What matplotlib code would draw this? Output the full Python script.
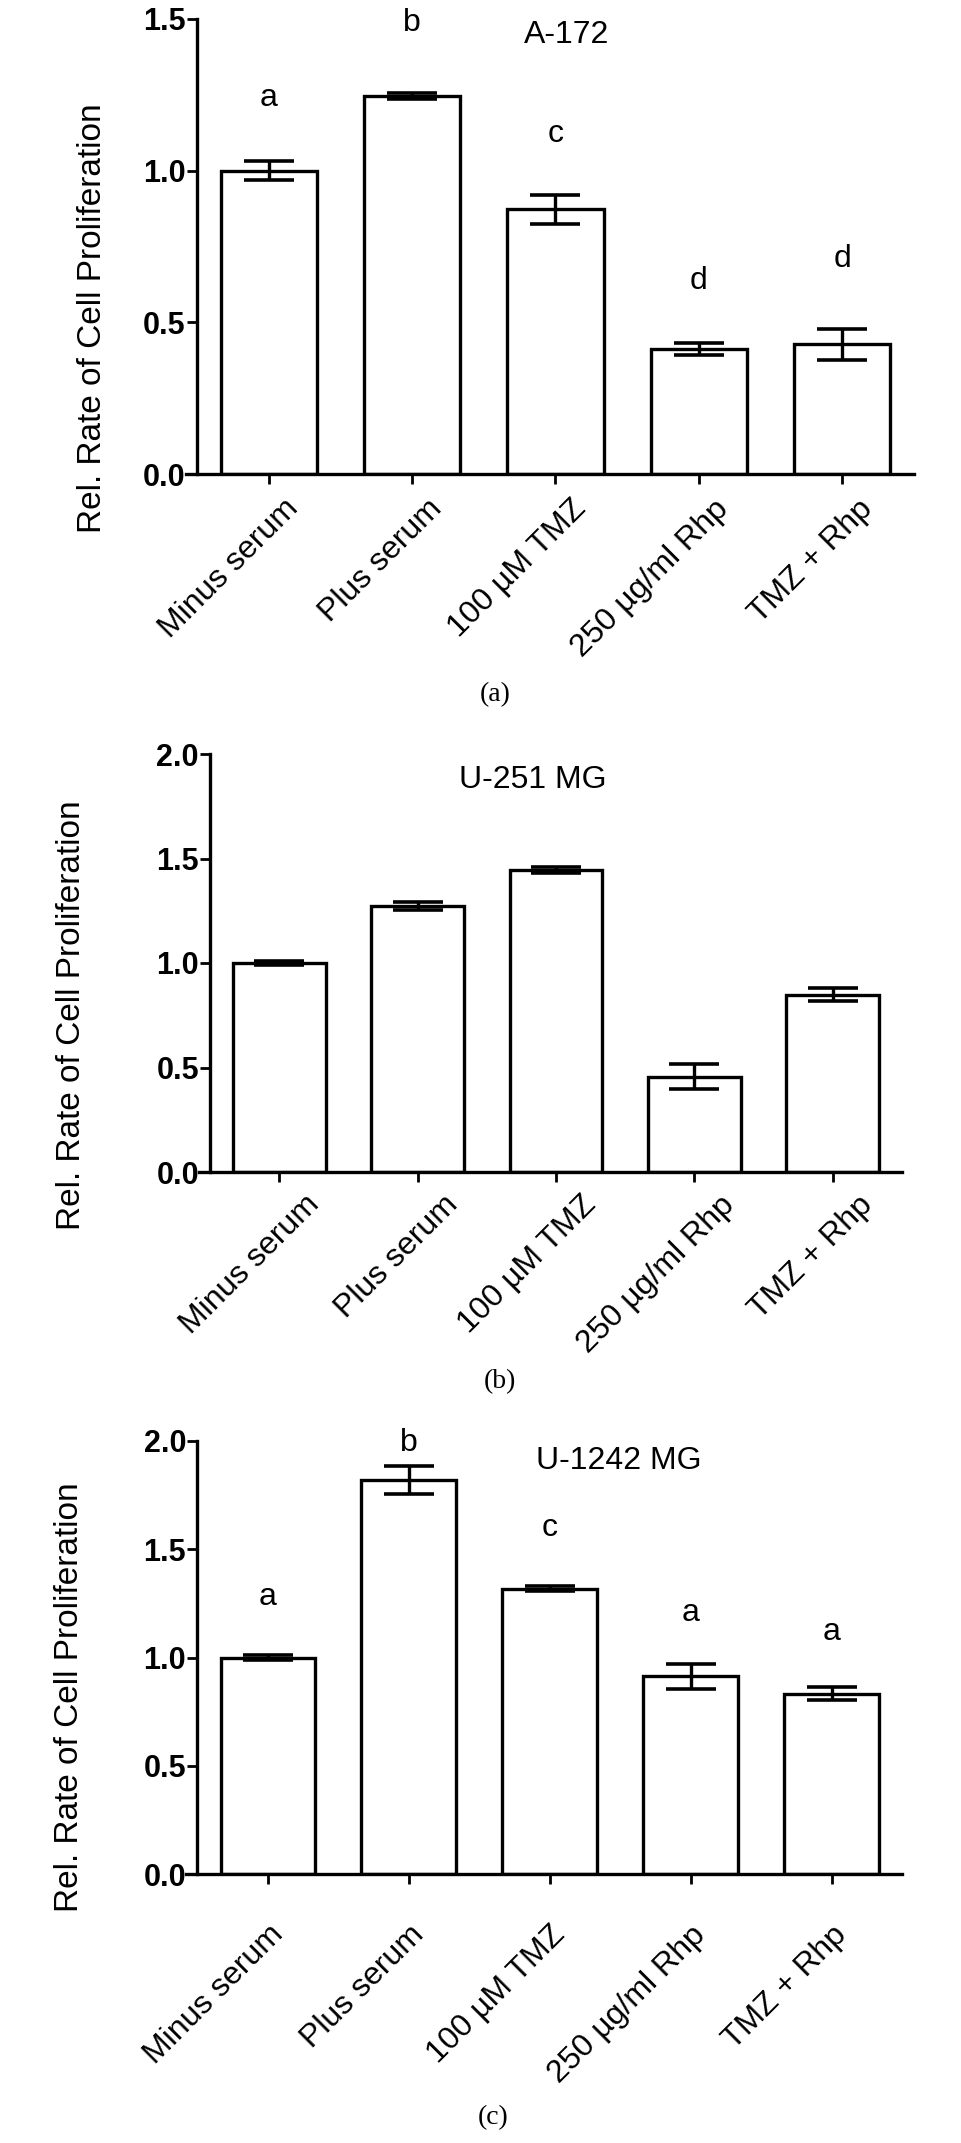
import matplotlib
matplotlib.use("Agg")
import matplotlib.pyplot as plt
from matplotlib.transforms import ScaledTranslation
import numpy as np

plt.rcParams['font.family'] = ['Liberation Sans', 'DejaVu Sans']

# --- data ---
groups = ['Minus serum', 'Plus serum', '100 µM TMZ', '250 µg/ml Rhp', 'TMZ + Rhp']

a172_mean = [1.00, 1.245, 0.873, 0.412, 0.427]
a172_err = [0.032, 0.010, 0.048, 0.020, 0.052]
a172_letters = ['a', 'b', 'c', 'd', 'd']
a172_letter_y = [1.238, 1.487, 1.12, 0.636, 0.709]

u251_mean = [1.00, 1.273, 1.445, 0.455, 0.848]
u251_err = [0.008, 0.020, 0.015, 0.060, 0.032]

u1242_mean = [1.00, 1.82, 1.318, 0.914, 0.832]
u1242_err = [0.012, 0.065, 0.012, 0.058, 0.030]
u1242_letters = ['a', 'b', 'c', 'a', 'a']
u1242_letter_y = [1.279, 1.99, 1.60, 1.205, 1.117]

W, H = 961, 2143
fig = plt.figure(figsize=(W / 100, H / 100), dpi=100)


def px_axes(left, right, top, bottom):
    # pixel box -> figure fraction
    return [left / W, 1 - bottom / H, (right - left) / W, (bottom - top) / H]


panels = [
    dict(box=(185.5, 914, 19, 474), ymax=1.5, mean=a172_mean, err=a172_err,
         letters=a172_letters, letter_y=a172_letter_y,
         title='A-172', title_xy=(2.08, 1.447), lab_off=(15, 10),
         ylab=(93, 318), cap='(a)', cap_xy=(495, 695)),
    dict(box=(199, 902, 754, 1172), ymax=2.0, mean=u251_mean, err=u251_err,
         letters=None, letter_y=None,
         title='U-251 MG', title_xy=(1.83, 1.876), lab_off=(25, 8),
         ylab=(72, 1015), cap='(b)', cap_xy=(500, 1382)),
    dict(box=(186, 902, 1441, 1874), ymax=2.0, mean=u1242_mean, err=u1242_err,
         letters=u1242_letters, letter_y=u1242_letter_y,
         title='U-1242 MG', title_xy=(2.49, 1.907), lab_off=(0, 36),
         ylab=(70, 1697), cap='(c)', cap_xy=(493, 2118)),
]

x = np.arange(len(groups))

for p in panels:
    ax = fig.add_axes(px_axes(*p['box']))
    ax.bar(x, p['mean'], width=0.67, color='white', edgecolor='black',
           linewidth=2.4, zorder=2)
    ax.errorbar(x, p['mean'], yerr=p['err'], fmt='none', ecolor='black',
                elinewidth=2.4, capsize=18, capthick=2.6, zorder=3)

    ax.set_xlim(-0.58, 4.5)
    ax.set_ylim(0, p['ymax'])

    for s in ['top', 'right']:
        ax.spines[s].set_visible(False)
    ax.spines['left'].set_position(('data', -0.5))
    ax.spines['left'].set_linewidth(2.4)
    ax.spines['bottom'].set_linewidth(2.4)
    ax.tick_params(axis='y', direction='out', length=7, width=2, pad=1,
                   labelsize=22)
    ax.tick_params(axis='x', direction='out', length=7, width=2, pad=0,
                   labelsize=23)

    yt = np.arange(0, p['ymax'] + 0.01, 0.5)
    ax.set_yticks(yt)
    ax.set_yticklabels([f'{v:.1f}' for v in yt], fontweight='bold',
                       fontsize=22)

    ax.set_xticks(x)
    ax.set_xticklabels(groups, rotation=45, ha='right', va='top',
                       rotation_mode='anchor', fontsize=23)
    dx, dy = p['lab_off']
    off = ScaledTranslation(dx / 100, -dy / 100, fig.dpi_scale_trans)
    for lbl in ax.get_xticklabels():
        lbl.set_transform(lbl.get_transform() + off)

    if p['letters']:
        for xi, t, yy in zip(x, p['letters'], p['letter_y']):
            ax.text(xi, yy, t, ha='center', va='center', fontsize=23)

    ax.text(p['title_xy'][0], p['title_xy'][1], p['title'], ha='center',
            va='center', fontsize=23)

    fig.text(p['ylab'][0] / W, 1 - p['ylab'][1] / H,
             'Rel. Rate of Cell Proliferation', rotation=90,
             ha='center', va='center', fontsize=24)
    fig.text(p['cap_xy'][0] / W, 1 - p['cap_xy'][1] / H, p['cap'],
             ha='center', va='center', fontsize=20,
             family=['Liberation Serif', 'DejaVu Serif'])

fig.savefig('out.png', dpi=100)
